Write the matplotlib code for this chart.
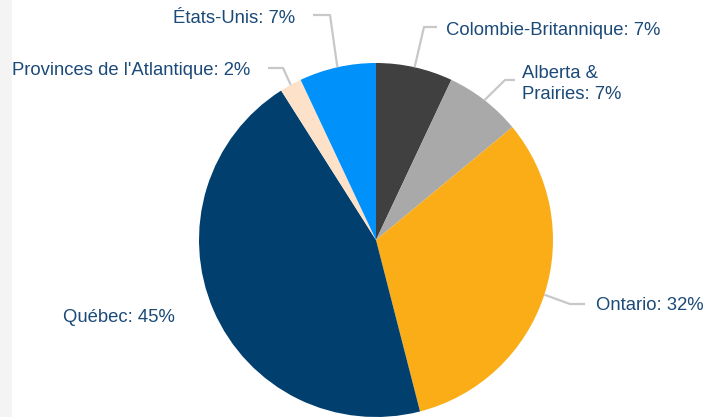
import numpy as np
import matplotlib.pyplot as plt

plt.rcParams['font.family'] = ['Liberation Sans', 'DejaVu Sans']

regions = ["Colombie-Britannique", "Alberta &\nPrairies", "Ontario", "Québec",
           "Provinces de l'Atlantique", "États-Unis"]
shares = [7, 7, 32, 45, 2, 7]
colors = ["#404040", "#a9a9a9", "#fbad18", "#003f6e", "#fde1c8", "#0091fa"]

W, H = 705, 417
fig = plt.figure(figsize=(W / 100, H / 100), dpi=100)

# pie centre and radius in pixels
cx, cy, r = 376, 240, 177
ax = fig.add_axes([(cx - r) / W, (H - cy - r) / H, 2 * r / W, 2 * r / H])
ax.pie(shares, colors=colors, startangle=90, counterclock=False, radius=1,
       wedgeprops=dict(linewidth=0))
ax.set_xlim(-1, 1)
ax.set_ylim(-1, 1)
ax.set_aspect('equal')
ax.axis('off')

# background strip on the left
ov = fig.add_axes([0, 0, 1, 1], zorder=-1)
ov.set_xlim(0, W)
ov.set_ylim(H, 0)
ov.axis('off')
ov.add_patch(plt.Rectangle((0, 0), 12, H, color="#f4f4f4", lw=0))

# overlay for labels, in pixel coords
ov2 = fig.add_axes([0, 0, 1, 1], zorder=5)
ov2.set_xlim(0, W)
ov2.set_ylim(H, 0)
ov2.axis('off')

# label layout: (elbow, end, text pos, ha)
layout = [
    ((424, 27), (437, 27), (446, 30), 'left'),
    ((505, 80), (515, 80), (522, 84), 'left'),
    ((570, 304), (585, 304), (596, 305), 'left'),
    (None, None, (175, 318), 'right'),
    ((283, 68), (268, 68), (250, 70), 'right'),
    ((330, 15), (313, 15), (295, 18), 'right'),
]

total = sum(shares)
cum = 0
for name, val, (elbow, end, tpos, ha) in zip(regions, shares, layout):
    mid = (cum + val / 2) / total * 2 * np.pi
    cum += val
    if elbow is not None:
        sx = cx + r * np.sin(mid)
        sy = cy - r * np.cos(mid)
        ov2.plot([sx, elbow[0], end[0]], [sy, elbow[1], end[1]],
                 color="#c8c8c8", lw=1.6, solid_capstyle='butt')
    ov2.text(tpos[0], tpos[1], f"{name}: {val}%", ha=ha, va='center',
             fontsize=13.3, color="#1b4a78", linespacing=1.25)

fig.savefig("out.png", dpi=100)
